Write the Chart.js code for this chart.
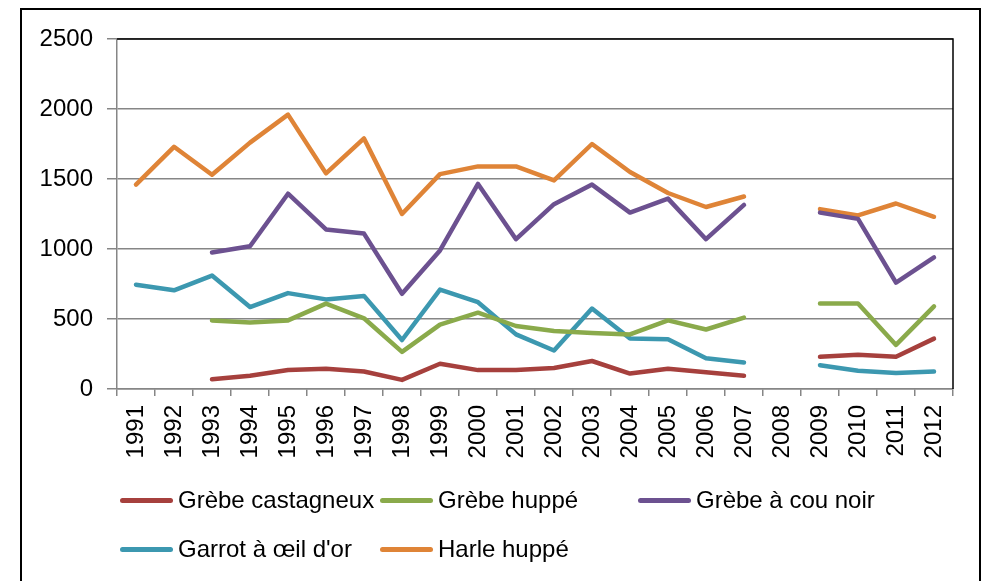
<!DOCTYPE html>
<html>
<head>
<meta charset="utf-8">
<script src="https://cdn.jsdelivr.net/npm/chart.js@4.4.1/dist/chart.umd.min.js"></script>
<style>
  body { margin: 0; background: #fff; }
  #wrap { position: relative; width: 983px; height: 581px; overflow: hidden; }
  #frame { position: absolute; left: 20px; top: 8px; width: 961px; height: 600px;
           border: 2px solid #000; box-sizing: border-box; }
  #c { position: absolute; left: 0; top: 0; }
  .leg { position: absolute; font-family: "Liberation Sans", Arial, sans-serif; font-size: 24px;
         color: #000; white-space: nowrap; height: 30px; line-height: 30px; }
  .leg span.ln { position: absolute; left: 0; top: 13px; width: 53px; height: 5px; border-radius: 3px; }
  .leg span.tx { position: absolute; left: 58px; top: 0; }
</style>
</head>
<body>
<div id="wrap">
  <div id="frame"></div>
  <canvas id="c" width="983" height="581"></canvas>
</div>
<script>
var years = ['1991','1992','1993','1994','1995','1996','1997','1998','1999','2000','2001','2002','2003','2004','2005','2006','2007','2008','2009','2010','2011','2012'];

var names = ['Grèbe castagneux', 'Grèbe huppé', 'Grèbe à cou noir', 'Garrot à œil d\'or', 'Harle huppé'];
var colors = ['#A6403D', '#8AAA4B', '#6C5190', '#3C98B0', '#DF8437'];

var grebeCastagneux = [null, null, 70, 95, 135, 145, 125, 65, 180, 135, 135, 150, 200, 110, 145, 120, 95, null, 230, 245, 230, 360];
var grebeHuppe      = [null, null, 490, 475, 490, 610, 505, 265, 460, 545, 450, 415, 400, 390, 490, 425, 510, null, 610, 610, 315, 590];
var grebeCouNoir    = [null, null, 975, 1020, 1395, 1140, 1110, 680, 990, 1465, 1070, 1320, 1460, 1260, 1360, 1070, 1315, null, 1260, 1215, 760, 940];
var garrot          = [745, 705, 810, 585, 685, 640, 665, 350, 710, 620, 390, 275, 575, 360, 355, 220, 190, null, 170, 130, 115, 125];
var harleHuppe      = [1460, 1730, 1530, 1760, 1960, 1540, 1790, 1250, 1535, 1590, 1590, 1490, 1750, 1550, 1400, 1300, 1375, null, 1285, 1240, 1325, 1230];

var yTicks = [0, 500, 1000, 1500, 2000, 2500];

var series = [grebeCastagneux, grebeHuppe, grebeCouNoir, garrot, harleHuppe];

var font = { family: '"Liberation Sans", Arial, sans-serif', size: 24 };

// black top and right edge of the plot area
var plotBorder = {
  id: 'plotBorder',
  afterDraw: function (chart) {
    var a = chart.chartArea, ctx = chart.ctx;
    ctx.save();
    ctx.strokeStyle = '#000';
    ctx.lineWidth = 1.5;
    ctx.beginPath();
    ctx.moveTo(a.left, a.top);
    ctx.lineTo(a.right, a.top);
    ctx.lineTo(a.right, a.bottom);
    ctx.stroke();
    ctx.restore();
  }
};

var ctx = document.getElementById('c').getContext('2d');
var chart = new Chart(ctx, {
  type: 'line',
  data: {
    labels: years,
    datasets: series.map(function (d, i) {
      return {
        label: names[i],
        data: d,
        borderColor: colors[i],
        backgroundColor: colors[i],
        borderWidth: 4.5,
        pointRadius: 0,
        tension: 0,
        spanGaps: false,
        borderJoinStyle: 'round',
        borderCapStyle: 'round'
      };
    })
  },
  options: {
    responsive: false,
    animation: false,
    layout: { padding: { left: 0, top: 39, right: 30, bottom: 0 } },
    plugins: { legend: { display: false }, tooltip: { enabled: false } },
    scales: {
      x: {
        offset: true,
        grid: { offset: true, drawOnChartArea: false, tickLength: 7, color: '#868686', lineWidth: 1.5 },
        border: { color: '#868686', width: 1.5 },
        ticks: { font: font, color: '#000', minRotation: 90, maxRotation: 90, padding: 9, autoSkip: false },
        afterFit: function (s) { s.height = 192; }
      },
      y: {
        min: 0, max: 2500,
        afterBuildTicks: function (s) { s.ticks = yTicks.map(function (v) { return { value: v }; }); },
        grid: { tickLength: 10, color: '#868686', lineWidth: 1.5 },
        border: { color: '#868686', width: 1.5 },
        ticks: { font: font, color: '#000', padding: 14, callback: function (v) { return String(v); } },
        afterFit: function (s) { s.width = 117; }
      }
    }
  },
  plugins: [plotBorder]
});

// legend laid out as a grid like the original
var legCols = [120, 380, 638];
var legRows = [485, 534];
var wrap = document.getElementById('wrap');
names.forEach(function (n, i) {
  var d = document.createElement('div');
  d.className = 'leg';
  d.style.left = legCols[i % 3] + 'px';
  d.style.top = legRows[Math.floor(i / 3)] + 'px';
  d.innerHTML = '<span class="ln" style="background:' + colors[i] + '"></span><span class="tx"></span>';
  d.querySelector('.tx').textContent = n;
  wrap.appendChild(d);
});
</script>
</body>
</html>
